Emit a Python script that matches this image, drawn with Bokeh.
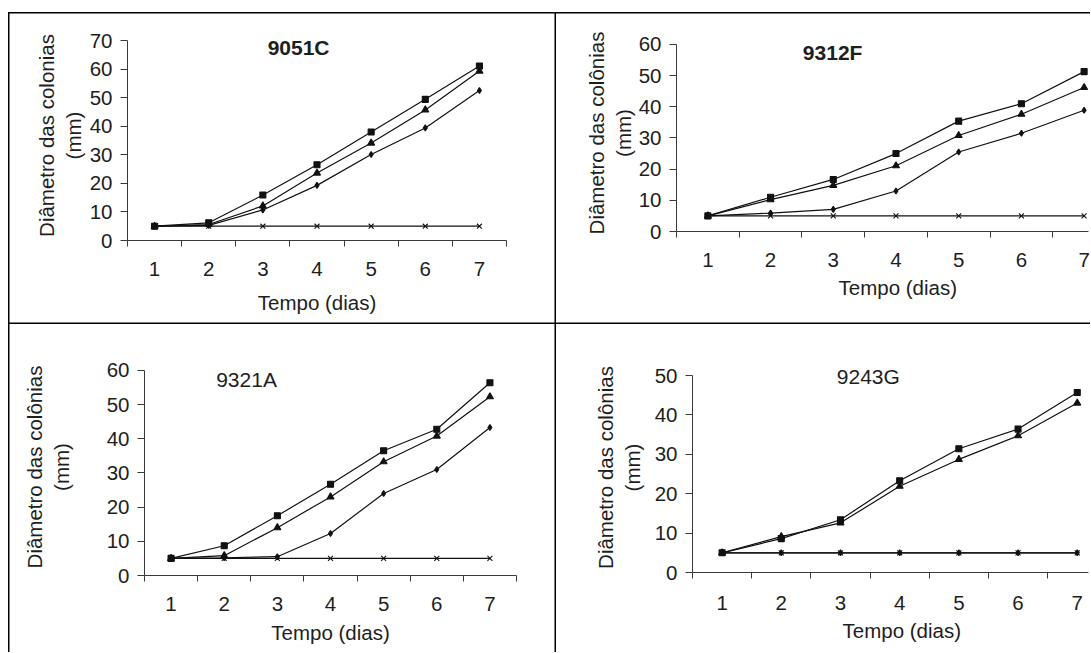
from bokeh.plotting import figure
from bokeh.layouts import column, row
from bokeh.models import Spacer, FixedTicker, Label, Range1d, Title
from bokeh.embed import file_html
from bokeh.resources import INLINE

# ---------------- data ----------------
days = [1, 2, 3, 4, 5, 6, 7]

# 9051C
c9051_square = [5.0, 6.2, 15.9, 26.5, 38.0, 49.4, 61.1]
c9051_triangle = [5.0, 5.6, 12.1, 23.6, 34.1, 45.7, 59.3]
c9051_diamond = [5.0, 5.3, 10.7, 19.3, 30.1, 39.4, 52.5]
c9051_x = [5.0, 5.0, 5.0, 5.0, 5.0, 5.0, 5.0]

# 9312F
c9312_square = [5.0, 11.0, 16.7, 25.0, 35.4, 41.0, 51.3]
c9312_triangle = [5.0, 10.2, 14.8, 21.1, 30.8, 37.6, 46.2]
c9312_diamond = [5.0, 5.9, 7.1, 13.0, 25.5, 31.5, 38.9]
c9312_x = [5.0, 5.0, 5.0, 5.0, 5.0, 5.0, 5.0]

# 9321A
c9321_square = [5.0, 8.7, 17.5, 26.7, 36.5, 42.8, 56.4]
c9321_triangle = [5.0, 5.8, 14.0, 23.0, 33.3, 40.8, 52.3]
c9321_diamond = [5.0, 5.2, 5.5, 12.3, 24.0, 31.0, 43.3]
c9321_x = [5.0, 5.0, 5.0, 5.0, 5.0, 5.0, 5.0]

# 9243G
c9243_square = [5.0, 8.6, 13.4, 23.3, 31.4, 36.4, 45.7]
c9243_triangle = [5.0, 9.1, 12.6, 21.9, 28.7, 34.7, 43.0]
c9243_diamond = [5.0, 5.0, 5.0, 5.0, 5.0, 5.0, 5.0]
c9243_x = [5.0, 5.0, 5.0, 5.0, 5.0, 5.0, 5.0]

FONT = "Liberation Sans"
FS = "20.5px"
TXT = "#1e1e1e"
AX = "#3a3a3a"
LINE = "#111111"


def make_panel(title, bold, ylabel, ymax, yend, series, width, height, mb,
               x_end, title_xy, shadow, x_std, y_lab_std, xlab_offset=None):
    p = figure(width=width, height=height, output_backend="svg",
               toolbar_location=None, tools="",
               x_range=Range1d(0.5, x_end), y_range=Range1d(0, yend),
               min_border_left=mb[0], min_border_right=mb[1],
               min_border_top=mb[2], min_border_bottom=mb[3])
    p.border_fill_color = None
    p.background_fill_color = None
    p.outline_line_color = None
    p.grid.visible = False
    p.styles = {"box-shadow": shadow}

    sq, tri, dia, xs = series
    for ys, marker, size in ((xs, "x", 7), (dia, "diamond", 6),
                             (tri, "triangle", 7), (sq, "square", 6)):
        p.line(days, ys, line_color=LINE, line_width=1.2)
        p.scatter(days, ys, marker=marker, size=size, fill_color=LINE,
                  line_color=LINE, line_width=1.1)

    # x axis: labels at days, tick marks between days
    xa = p.xaxis[0]
    xa.ticker = FixedTicker(ticks=days,
                            minor_ticks=[d - 0.5 for d in days] + [days[-1] + 0.5])
    xa.major_tick_out = 0
    xa.major_tick_in = 0
    xa.minor_tick_out = 6
    xa.minor_tick_in = 0
    xa.major_label_standoff = x_std[0]
    if xlab_offset is None:
        xa.axis_label = "Tempo (dias)"
        xa.axis_label_standoff = x_std[1]
    else:
        p.add_layout(Title(text="Tempo (dias)", align="left",
                           offset=xlab_offset, standoff=x_std[1],
                           vertical_align="top",
                           text_font=FONT, text_font_size=FS,
                           text_font_style="normal", text_color=TXT), "below")

    ya = p.yaxis[0]
    ya.ticker = FixedTicker(ticks=list(range(0, ymax + 1, 10)), minor_ticks=[])
    ya.bounds = (0, ymax)
    ya.major_tick_out = 7
    ya.major_tick_in = 0
    ya.minor_tick_out = 0
    ya.minor_tick_in = 0
    ya.axis_label = ylabel + "\n(mm)"
    ya.axis_label_text_line_height = 1.14
    ya.major_label_standoff = 8
    ya.axis_label_standoff = y_lab_std

    for ax in (xa, ya):
        ax.axis_line_color = AX
        ax.axis_line_width = 1
        ax.major_tick_line_color = AX
        ax.minor_tick_line_color = AX
        ax.major_label_text_font = FONT
        ax.major_label_text_font_size = FS
        ax.major_label_text_color = TXT
        ax.axis_label_text_font = FONT
        ax.axis_label_text_font_size = FS
        ax.axis_label_text_font_style = "normal"
        ax.axis_label_text_color = TXT

    p.add_layout(Label(x=title_xy[0], y=title_xy[1], text=title,
                       text_font=FONT, text_font_size="21px",
                       text_font_style="bold" if bold else "normal",
                       text_color=TXT, text_align="center",
                       text_baseline="middle"))
    return p


B = "1.5px"
sh_tl = (f"inset 0 {B} 0 0 #000, inset {B} 0 0 0 #000, "
         f"inset -{B} 0 0 0 #000, inset 0 -{B} 0 0 #000")
sh_tr = f"inset 0 {B} 0 0 #000, inset 0 -{B} 0 0 #000"
sh_bl = f"inset {B} 0 0 0 #000, inset -{B} 0 0 0 #000"
sh_br = "none"

W_L, W_R = 548, 534
H_T, H_B = 312, 328

p1 = make_panel("9051C", True, "Diâmetro das colonias", 70, 73.5,
                (c9051_square, c9051_triangle, c9051_diamond, c9051_x),
                W_L, H_T, (119, 50, 18, 84), 7.5, (3.66, 67.6), sh_tl,
                x_std=(15, 12), y_lab_std=2)
p2 = make_panel("9312F", True, "Diâmetro das colônias", 60, 63.2,
                (c9312_square, c9312_triangle, c9312_diamond, c9312_x),
                W_R, H_T, (120, 2, 22, 93), 7.07, (2.99, 57.4), sh_tr,
                x_std=(15, 13), y_lab_std=1, xlab_offset=162)
p3 = make_panel("9321A", False, "Diâmetro das colônias", 60, 63.5,
                (c9321_square, c9321_triangle, c9321_diamond, c9321_x),
                W_L, H_B, (136, 40, 34, 77), 7.5, (2.42, 57.4), sh_bl,
                x_std=(15, 7), y_lab_std=31)
p4 = make_panel("9243G", False, "Diâmetro das colônias", 50, 53.3,
                (c9243_square, c9243_triangle, c9243_diamond, c9243_x),
                W_R, H_B, (136, 2, 38, 80), 7.19, (3.47, 49.7), sh_br,
                x_std=(17, 12), y_lab_std=8, xlab_offset=150)

layout = row(Spacer(width=8, height=H_T + H_B + 12),
             column(Spacer(width=W_L, height=12), row(p1), row(p3)),
             column(Spacer(width=W_R, height=12), row(p2), row(p4)))

open("out.html", "w").write(file_html(layout, INLINE))
